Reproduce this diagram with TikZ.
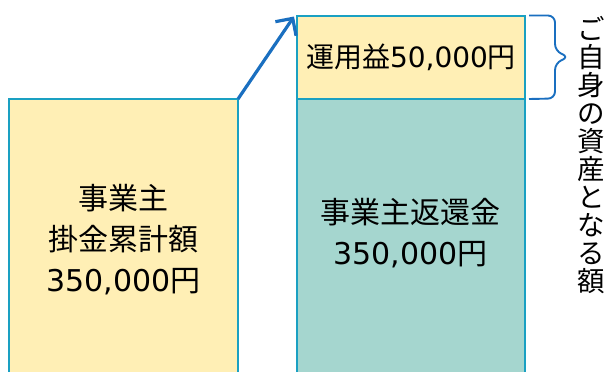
\documentclass[tikz,border=0pt]{standalone}
\usepackage{fontspec}
\setmainfont{Noto Sans CJK JP}
\newfontfamily\latinfont{DejaVu Sans}
\usetikzlibrary{arrows.meta,positioning}
\definecolor{boxyellow}{HTML}{FFEFB5}
\definecolor{boxteal}{HTML}{A5D6CF}
\definecolor{boxline}{HTML}{1AA0C2}
\definecolor{arrowblue}{HTML}{1A6FC0}
\newcommand{\amount}[1]{{\latinfont #1}円}

\begin{document}
\begin{tikzpicture}[x=1pt, y=-1pt,
	box/.style={draw=boxline, line width=2pt, inner sep=0pt, outer sep=0pt},
	bigtext/.style={font=\fontsize{30}{41}\selectfont, align=center}]
			%%%%% START %%%%%
			
			\useasboundingbox (0,0) rectangle (608,372);
			\clip (0,0) rectangle (608,372);
			
			\node[box, fill=boxyellow, minimum width=229pt, minimum height=282pt] (kakekin) at (123.5,240) {};
			\node[bigtext] (kakekintext) at (123.5,240) {事業主\\掛金累計額\\\amount{350,000}};
			
			\node[box, fill=boxyellow, minimum width=228pt, minimum height=83.5pt, font=\fontsize{28}{34}\selectfont] (unyo) at (411,57.25) {運用益\amount{50,000}};
			\node[box, fill=boxteal, minimum width=228pt, minimum height=290pt, below=0pt of unyo] (henkan) {};
			\node[bigtext] (henkantext) at (410.5,233.5) {事業主返還金\\\amount{350,000}};
			
			\draw[arrowblue, line width=3.2pt, -{Straight Barb[length=12.5pt, width=25pt]}] (kakekin.north east) -- ([xshift=-3pt, yshift=-1pt]unyo.north west);
			
			\draw[arrowblue, line width=1.9pt, rounded corners=7pt] ([xshift=4pt]unyo.north east) -- (555,15.5) -- (555,51) -- (569,57) -- (555,63) -- (555,98.5) -- ([xshift=4pt]unyo.south east);
			
			\node[font=\fontsize{27.5}{28}\selectfont, align=center] (shisan) at (591,155) {ご\\自\\身\\の\\資\\産\\と\\な\\る\\額};
			
			%%%%% END %%%%%
\end{tikzpicture}
\end{document}
